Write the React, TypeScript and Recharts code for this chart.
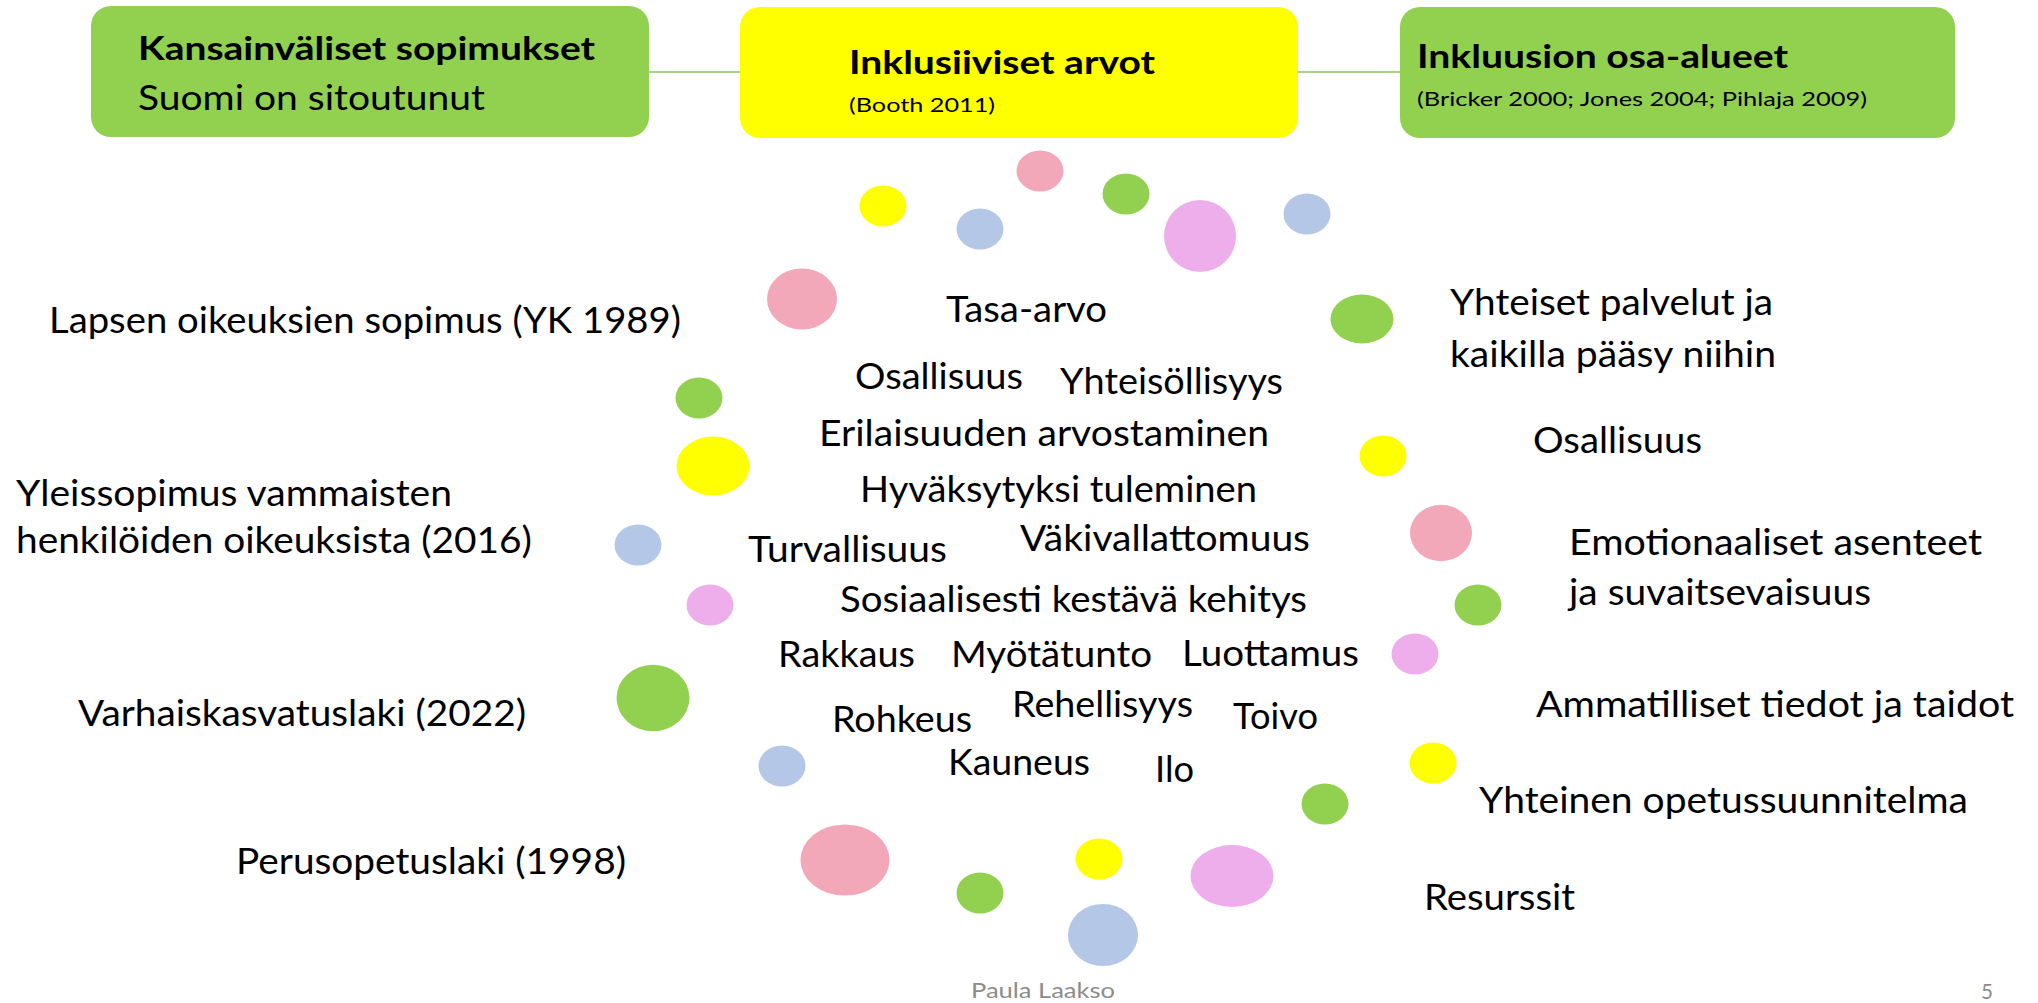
import React from 'react';
import { ScatterChart, Scatter, XAxis, YAxis, ZAxis, ReferenceArea, ReferenceLine } from 'recharts';

const W = 2038;
const H = 1003;
const X_MAX = 2038;
const Y_MAX = 1003;

// ---- bubbles (slide coordinates, relative size, width/height ratio, colour group)
const bubbleX = [883, 980, 1040, 1126, 1200, 1307, 802, 699, 713, 638, 710, 653, 782, 845, 980, 1099, 1103, 1232, 1325, 1433, 1362, 1383, 1441, 1478, 1415];
const bubbleY = [206, 229, 171, 194, 236, 214, 299, 398, 466, 545, 605, 698, 766, 860, 893, 859, 935, 876, 804, 763, 319, 456, 533, 605, 654];
const bubbleZ = [1, 1, 1, 1, 2.35, 1, 2.22, 1, 2.41, 1, 1, 2.41, 1, 3.59, 1, 1, 2.22, 3.12, 1, 1, 1.8, 1, 1.74, 1, 1];
const bubbleAspect = [1.15, 1.15, 1.15, 1.15, 1.0, 1.15, 1.15, 1.15, 1.24, 1.15, 1.15, 1.1, 1.15, 1.25, 1.15, 1.15, 1.13, 1.34, 1.15, 1.15, 1.29, 1.15, 1.1, 1.15, 1.15];
const bubbleGroup = ['yellow', 'blue', 'pink', 'green', 'violet', 'blue', 'pink', 'green', 'yellow', 'blue', 'violet', 'green', 'blue', 'pink', 'green', 'yellow', 'blue', 'violet', 'green', 'yellow', 'green', 'yellow', 'pink', 'green', 'violet'];

// ---- header boxes
const boxX1 = [91, 740, 1400];
const boxX2 = [649, 1298, 1955];
const boxY1 = [6, 7, 7];
const boxY2 = [137, 138, 138];
const boxGroup = ['green', 'yellow', 'green'];

// ---- connectors between boxes
const connX1 = [649, 1298];
const connX2 = [740, 1400];
const connY = [72, 72];

// ---- texts: left x, right x, baseline y, kind
const labelText = [
  'Kansainväliset sopimukset', 'Suomi on sitoutunut',
  'Inklusiiviset arvot', '(Booth 2011)',
  'Inkluusion osa-alueet', '(Bricker 2000; Jones 2004; Pihlaja 2009)',
  'Lapsen oikeuksien sopimus (YK 1989)', 'Yleissopimus vammaisten', 'henkilöiden oikeuksista (2016)',
  'Varhaiskasvatuslaki (2022)', 'Perusopetuslaki (1998)',
  'Tasa-arvo', 'Osallisuus', 'Yhteisöllisyys', 'Erilaisuuden arvostaminen', 'Hyväksytyksi tuleminen',
  'Turvallisuus', 'Väkivallattomuus', 'Sosiaalisesti kestävä kehitys',
  'Rakkaus', 'Myötätunto', 'Luottamus', 'Rohkeus', 'Rehellisyys', 'Toivo', 'Kauneus', 'Ilo',
  'Yhteiset palvelut ja', 'kaikilla pääsy niihin', 'Osallisuus', 'Emotionaaliset asenteet', 'ja suvaitsevaisuus',
  'Ammatilliset tiedot ja taidot', 'Yhteinen opetussuunnitelma', 'Resurssit',
  'Paula Laakso', '5',
];
const labelX0 = [138, 138, 849, 849, 1417, 1417, 49, 16, 16, 78, 236, 946, 855, 1060, 819, 860, 748, 1020, 840, 778, 951, 1182, 832, 1012, 1233, 948, 1155, 1450, 1450, 1533, 1569, 1569, 1536, 1479, 1424, 971, 1981];
const labelX1 = [595, 485, 1155, 995, 1788, 1867, 681, 452, 532, 526, 626, 1107, 1023, 1283, 1269, 1257, 947, 1310, 1307, 915, 1152, 1359, 972, 1193, 1318, 1090, 1194, 1773, 1776, 1702, 1982, 1871, 2014, 1968, 1575, 1115, 1993];
const labelY = [60, 110, 74, 112, 68, 106, 333, 506, 553, 726, 874, 322, 389, 394, 446, 502, 562, 551, 612, 667, 667, 666, 732, 717, 729, 775, 782, 315, 367, 453, 555, 605, 717, 813, 910, 998, 999];
const labelKind = ['title', 'sub', 'title', 'ref', 'title', 'ref', 'body', 'body', 'body', 'body', 'body', 'body', 'body', 'body', 'body', 'body', 'body', 'body', 'body', 'body', 'body', 'body', 'body', 'body', 'body', 'body', 'body', 'body', 'body', 'body', 'body', 'body', 'body', 'body', 'body', 'footer', 'footer'];

const palette: Record<string, string> = {
  green: '#92D050',
  yellow: '#FFFF00',
  pink: '#F3A8BA',
  blue: '#B4C7E7',
  violet: '#EEAEEC',
  connector: '#A9D38A',
};

const labelStyles: Record<string, { size: number; weight: number; color: string }> = {
  title: { size: 32, weight: 700, color: '#000000' },
  sub: { size: 34, weight: 400, color: '#000000' },
  ref: { size: 20, weight: 400, color: '#000000' },
  body: { size: 37, weight: 400, color: '#000000' },
  footer: { size: 21, weight: 400, color: '#8C8C8C' },
};

const FONT = "Lato, 'Open Sans', 'DejaVu Sans', sans-serif";
const SMALL_BUBBLE_RADIUS = 23.5;

const bubbleData = bubbleX.map((x, i) => ({ x, y: bubbleY[i], z: bubbleZ[i], a: bubbleAspect[i], g: bubbleGroup[i] }));
const labelData = labelText.map((text, i) => ({ x: labelX0[i], x1: labelX1[i], y: labelY[i], text, kind: labelKind[i] }));

const BubbleShape = (props: any) => {
  const { cx, cy, payload } = props;
  // bubble area proportional to z (same as a bubble chart's z axis)
  const r = SMALL_BUBBLE_RADIUS * Math.sqrt(Math.max(payload.z, 0)) * (W / X_MAX);
  return <ellipse cx={cx} cy={cy} rx={r} ry={r / payload.a} fill={palette[payload.g]} />;
};

const LabelShape = (props: any) => {
  const { cx, cy, payload } = props;
  const st = labelStyles[payload.kind];
  const len = (payload.x1 - payload.x) * (W / X_MAX);
  return (
    <text
      x={cx}
      y={cy}
      fontFamily={FONT}
      fontSize={st.size}
      fontWeight={st.weight}
      fill={st.color}
      textLength={len}
      lengthAdjust="spacingAndGlyphs"
    >
      {payload.text}
    </text>
  );
};

export default function App() {
  return (
    <div style={{ position: 'absolute', left: 0, top: 0, width: W, height: H, background: '#ffffff' }}>
      <style>{'body{margin:0;background:#fff;}'}</style>
      <ScatterChart width={W} height={H} margin={{ top: 0, right: 0, bottom: 0, left: 0 }}>
        <XAxis type="number" dataKey="x" domain={[0, X_MAX]} allowDataOverflow hide />
        <YAxis type="number" dataKey="y" domain={[0, Y_MAX]} reversed allowDataOverflow hide />
        <ZAxis type="number" dataKey="z" domain={[0, 1]} range={[0, Math.PI * SMALL_BUBBLE_RADIUS * SMALL_BUBBLE_RADIUS]} />
        {connX1.map((x1, i) => (
          <ReferenceLine
            key={`c${i}`}
            segment={[{ x: x1, y: connY[i] }, { x: connX2[i], y: connY[i] }]}
            stroke={palette.connector}
            strokeWidth={2}
            ifOverflow="visible"
          />
        ))}
        {boxX1.map((x1, i) => (
          <ReferenceArea
            key={`b${i}`}
            x1={x1}
            x2={boxX2[i]}
            y1={boxY1[i]}
            y2={boxY2[i]}
            ifOverflow="visible"
            fill={palette[boxGroup[i]]}
            fillOpacity={1}
            stroke="none"
            radius={20}
          />
        ))}
        <Scatter data={bubbleData} shape={BubbleShape} isAnimationActive={false} />
        <Scatter data={labelData} shape={LabelShape} isAnimationActive={false} />
      </ScatterChart>
    </div>
  );
}
